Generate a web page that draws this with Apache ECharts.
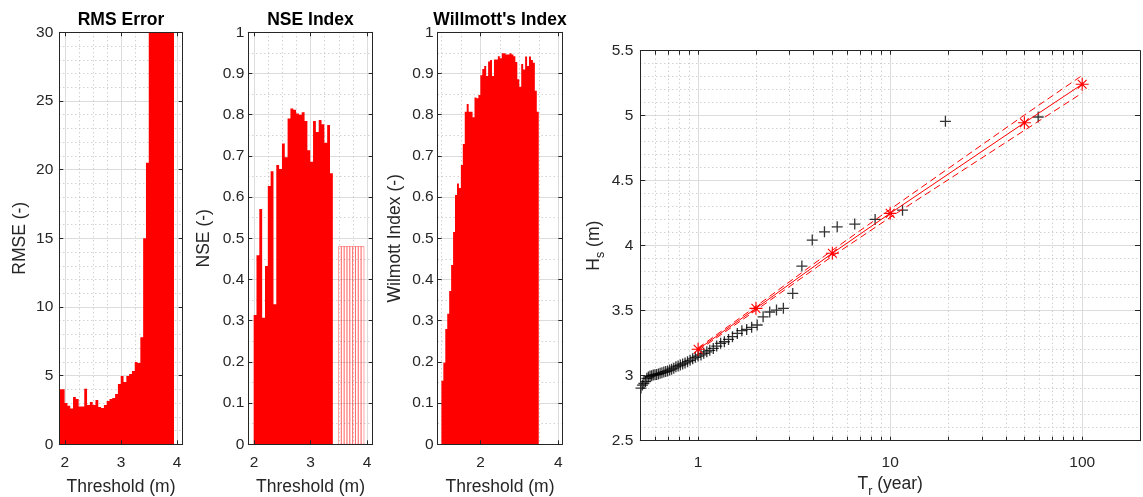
<!DOCTYPE html>
<html>
<head>
<meta charset="utf-8">
<title>Threshold skill scores and return levels</title>
<script src="https://cdn.jsdelivr.net/npm/echarts@6/dist/echarts.min.js"></script>
<style>
  html, body { margin: 0; padding: 0; background: #fff; }
  #chart { width: 1143px; height: 497px; }
</style>
</head>
<body>
<div id="chart"></div>
<script>
// ---------- data ----------
// RMS error per threshold (bin centres, m)
const rmseThreshold = [1.92, 1.97, 2.02, 2.07, 2.12, 2.17, 2.22, 2.27, 2.32, 2.37,
  2.42, 2.47, 2.52, 2.57, 2.62, 2.67, 2.72, 2.77, 2.82, 2.87,
  2.92, 2.97, 3.02, 3.07, 3.12, 3.17, 3.22, 3.27, 3.32, 3.37,
  3.42, 3.47, 3.52, 3.57, 3.62, 3.67, 3.72, 3.77, 3.82, 3.87, 3.92];
const rmse = [4.0, 4.0, 3.0, 2.8, 2.6, 3.45, 3.3, 2.75, 2.75, 4.05,
  2.86, 3.08, 2.86, 3.23, 2.72, 2.64, 2.86, 3.15, 3.3, 3.37,
  3.66, 4.39, 4.97, 4.54, 4.97, 5.12, 5.34, 6.0, 5.92, 7.8,
  15.0, 20.5, 36, 48, 62, 80, 95, 110, 130, 150, 175];

// Nash-Sutcliffe efficiency per threshold
const nseThreshold = [2.02, 2.07, 2.12, 2.17, 2.22, 2.27, 2.32, 2.37, 2.42, 2.47,
  2.52, 2.57, 2.62, 2.67, 2.72, 2.77, 2.82, 2.87, 2.92, 2.97,
  3.02, 3.07, 3.12, 3.17, 3.22, 3.27, 3.32, 3.37];
const nse = [0.314, 0.459, 0.571, 0.307, 0.433, 0.627, 0.663, 0.34, 0.678, 0.668,
  0.73, 0.697, 0.791, 0.815, 0.812, 0.803, 0.80, 0.806, 0.785, 0.714,
  0.686, 0.785, 0.758, 0.787, 0.777, 0.732, 0.775, 0.658];
// thresholds drawn as outline-only bars
const nseOutlineThreshold = [3.52, 3.57, 3.62, 3.67, 3.72, 3.77, 3.82, 3.87, 3.92];
const nseOutline = [0.48, 0.48, 0.48, 0.48, 0.48, 0.48, 0.48, 0.48, 0.48];

// Willmott index of agreement per threshold
const willThreshold = [1.02, 1.07, 1.12, 1.17, 1.22, 1.27, 1.32, 1.37, 1.42, 1.47,
  1.52, 1.57, 1.62, 1.67, 1.72, 1.77, 1.82, 1.87, 1.92, 1.97,
  2.02, 2.07, 2.12, 2.17, 2.22, 2.27, 2.32, 2.37, 2.42, 2.47,
  2.52, 2.57, 2.62, 2.67, 2.72, 2.77, 2.82, 2.87, 2.92, 2.97,
  3.02, 3.07, 3.12, 3.17, 3.22, 3.27, 3.32, 3.37, 3.42, 3.47];
const willmott = [0.154, 0.198, 0.28, 0.317, 0.372, 0.435, 0.515, 0.605, 0.633, 0.622,
  0.678, 0.729, 0.807, 0.826, 0.807, 0.807, 0.794, 0.842, 0.84, 0.848,
  0.896, 0.911, 0.918, 0.894, 0.929, 0.933, 0.894, 0.934, 0.934, 0.942,
  0.937, 0.949, 0.949, 0.946, 0.946, 0.949, 0.946, 0.942, 0.928, 0.886,
  0.868, 0.923, 0.91, 0.941, 0.918, 0.941, 0.933, 0.926, 0.858, 0.807];

// Observed peaks: return period (year) and significant wave height (m)
const obsTr = [59, 19.4, 11.6, 8.35, 6.54, 5.30, 4.55, 3.93, 3.47, 3.11,
  2.78, 2.56, 2.36, 2.18, 2.03, 1.90, 1.79, 1.69, 1.60, 1.51,
  1.44, 1.37, 1.31, 1.25, 1.20, 1.15, 1.11, 1.07, 1.035, 1.0,
  0.967, 0.937, 0.908, 0.881, 0.855, 0.831, 0.808, 0.787, 0.766, 0.747,
  0.728, 0.711, 0.694, 0.678, 0.663, 0.648, 0.634, 0.621, 0.608, 0.596,
  0.584, 0.573, 0.562, 0.551, 0.541, 0.532, 0.522, 0.513, 0.504];
const obsHs = [4.99, 4.957, 4.273, 4.202, 4.166, 4.145, 4.107, 4.043, 3.843, 3.633,
  3.518, 3.505, 3.49, 3.453, 3.39, 3.372, 3.356, 3.346, 3.325, 3.30,
  3.279, 3.261, 3.249, 3.228, 3.21, 3.195, 3.184, 3.172, 3.16, 3.151,
  3.141, 3.13, 3.118, 3.108, 3.098, 3.09, 3.082, 3.075, 3.068, 3.058,
  3.05, 3.043, 3.037, 3.032, 3.028, 3.022, 3.018, 3.013, 3.01, 3.007,
  3.005, 3.0, 2.997, 2.99, 2.98, 2.955, 2.94, 2.928, 2.905];

// Fitted return levels with confidence bounds
const fitTr = [1, 2, 5, 10, 50, 100];
const fitHs = [3.203, 3.518, 3.942, 4.249, 4.946, 5.242];
const fitUpper = [3.213, 3.533, 3.965, 4.28, 5.005, 5.31];
const fitLower = [3.193, 3.503, 3.919, 4.218, 4.887, 5.175];

// Tick positions
const thrMajorTicks = [2, 3, 4];
const thrMinorTicks = [2.25, 2.5, 2.75, 3.25, 3.5, 3.75];
const willMajorTicks = [2, 4];
const willMinorTicks = [1, 1.5, 2.5, 3, 3.5];
const trMajorTicks = [1, 10, 100];
const trMinorTicks = [0.6, 0.7, 0.8, 0.9, 2, 3, 4, 5, 6, 7, 8, 9,
  20, 30, 40, 50, 60, 70, 80, 90];
const trAllTicks = [0.6, 0.7, 0.8, 0.9, 1, 2, 3, 4, 5, 6, 7, 8, 9, 10,
  20, 30, 40, 50, 60, 70, 80, 90, 100];

// ---------- styling ----------
const FONT = '"Liberation Sans", Arial, Helvetica, sans-serif';
const INK = '#262626';
const GRID_MAJOR = '#dcdcdc';
const GRID_MINOR = '#bdbdbd';
const RED = '#ff0000';
const TICK_SIZE = 15.5;
const LABEL_SIZE = 17.5;
const BIN_HALF = 0.025;   // half of the threshold bin width (m)

const grids = [
  { left: 59.3,  top: 32.3, width: 123.4, height: 412 },
  { left: 248.3, top: 32.3, width: 124.4, height: 412 },
  { left: 437.7, top: 32.3, width: 124.6, height: 412 },
  { left: 640.3, top: 50.7, width: 499.7, height: 390 }
].map(g => Object.assign({ containLabel: false, outerBoundsMode: 'none' }, g));

const xAxes = [];
const yAxes = [];
const addX = o => (xAxes.push(o), xAxes.length - 1);
const addY = o => (yAxes.push(o), yAxes.length - 1);

const off = { show: false };
const nameStyle = {
  fontSize: LABEL_SIZE, color: INK, fontFamily: FONT,
  rich: { sub: { fontSize: 12.5, color: INK, fontFamily: FONT, verticalAlign: 'top', padding: [13, 0, 0, 0] } }
};

// label/grid axes plus a boxed frame with inward ticks
function buildX(g, c) {
  const base = { gridIndex: g, type: c.type || 'value', min: c.min, max: c.max };
  if (c.type === 'log') base.logBase = 10;
  const main = addX(Object.assign({}, base, {
    position: 'bottom',
    axisLine: { show: false, onZero: false },
    axisTick: { show: false, customValues: c.major },
    axisLabel: c.type === 'log'
      ? { show: true, margin: c.margin, color: INK, fontSize: TICK_SIZE, fontFamily: FONT, showMinLabel: false, showMaxLabel: false }
      : { show: true, customValues: c.major, margin: c.margin, color: INK, fontSize: TICK_SIZE, fontFamily: FONT },
    splitLine: { show: true, lineStyle: { color: GRID_MAJOR, width: 1 } },
    name: c.name, nameLocation: 'middle', nameGap: c.nameGap, nameTextStyle: nameStyle
  }));
  addX(Object.assign({}, base, {
    position: 'bottom',
    axisLine: { show: false, onZero: false },
    axisTick: { show: false, customValues: c.minor },
    axisLabel: off,
    splitLine: { show: true, lineStyle: { color: GRID_MINOR, width: 1, type: [1, 3] } }
  }));
  ['bottom', 'top'].forEach(pos => {
    addX(Object.assign({}, base, {
      position: pos, z: 5,
      axisLine: { show: true, onZero: false, lineStyle: { color: INK, width: 1 } },
      axisTick: { show: true, inside: true, length: c.tickLen, customValues: c.frameTicks || c.major, lineStyle: { color: INK, width: 1 } },
      axisLabel: off, splitLine: off
    }));
  });
  return main;
}

function buildY(g, c) {
  const base = { gridIndex: g, type: 'value', min: c.min, max: c.max, interval: c.interval };
  const main = addY(Object.assign({}, base, {
    position: 'left',
    axisLine: { show: false, onZero: false },
    axisTick: off,
    axisLabel: { show: true, margin: c.margin, color: INK, fontSize: TICK_SIZE, fontFamily: FONT },
    splitLine: { show: true, lineStyle: { color: GRID_MAJOR, width: 1 } },
    minorTick: { show: false, splitNumber: c.minorSplit },
    minorSplitLine: { show: true, lineStyle: { color: GRID_MINOR, width: 1, type: [1, 3] } },
    name: c.name, nameLocation: 'middle', nameGap: c.nameGap, nameTextStyle: nameStyle
  }));
  ['left', 'right'].forEach(pos => {
    addY(Object.assign({}, base, {
      position: pos, z: 5,
      axisLine: { show: true, onZero: false, lineStyle: { color: INK, width: 1 } },
      axisTick: { show: true, inside: true, length: c.tickLen, lineStyle: { color: INK, width: 1 } },
      axisLabel: off, splitLine: off
    }));
  });
  return main;
}

const ax = [
  { x: buildX(0, { min: 1.9, max: 4.1, major: thrMajorTicks, minor: thrMinorTicks, margin: 10, tickLen: 4, name: 'Threshold (m)', nameGap: 34 }),
    y: buildY(0, { min: 0, max: 30, interval: 5, minorSplit: 5, margin: 6, tickLen: 4, name: 'RMSE (-)', nameGap: 30 }) },
  { x: buildX(1, { min: 1.9, max: 4.1, major: thrMajorTicks, minor: thrMinorTicks, margin: 10, tickLen: 4, name: 'Threshold (m)', nameGap: 34 }),
    y: buildY(1, { min: 0, max: 1, interval: 0.1, minorSplit: 2, margin: 4, tickLen: 4, name: 'NSE (-)', nameGap: 35 }) },
  { x: buildX(2, { min: 0.9, max: 4.1, major: willMajorTicks, minor: willMinorTicks, margin: 10, tickLen: 4, name: 'Threshold (m)', nameGap: 34 }),
    y: buildY(2, { min: 0, max: 1, interval: 0.1, minorSplit: 2, margin: 4, tickLen: 4, name: 'Wilmott Index (-)', nameGap: 34 }) },
  { x: buildX(3, { type: 'log', min: 0.5, max: 200, major: trMajorTicks, minor: trMinorTicks, frameTicks: trAllTicks, margin: 14, tickLen: 4,
                   name: 'T{sub|r} (year)', nameGap: 26 }),
    y: buildY(3, { min: 2.5, max: 5.5, interval: 0.5, minorSplit: 5, margin: 7, tickLen: 5, name: 'H{sub|s} (m)', nameGap: 33 }) }
];

// Whole histogram as one stair-shaped polygon (no seams between bins);
// every vertex comes from the series values through api.coord.
function stairFill(params, api) {
  if (params.dataIndexInside !== 0) return null;
  const n = params.dataInsideLength;
  const pts = [api.coord([api.value(0, 0) - BIN_HALF, 0])];
  for (let i = 0; i < n; i++) {
    const t = api.value(0, i);
    const v = api.value(1, i);
    pts.push(api.coord([t - BIN_HALF, v]), api.coord([t + BIN_HALF, v]));
  }
  pts.push(api.coord([api.value(0, n - 1) + BIN_HALF, 0]));
  return { type: 'polygon', shape: { points: pts }, style: { fill: RED } };
}

// outline-only bins
function binOutline(params, api) {
  const t = api.value(0);
  const v = api.value(1);
  const a = api.coord([t - BIN_HALF, v]);
  const b = api.coord([t + BIN_HALF, 0]);
  return {
    type: 'rect',
    shape: { x: a[0], y: a[1], width: b[0] - a[0], height: b[1] - a[1] },
    style: { fill: 'none', stroke: 'rgba(255,0,0,0.45)', lineWidth: 0.8 }
  };
}
const pairs = (xs, ys) => xs.map((x, i) => [x, ys[i]]);

const PLUS = 'path://M0,5L10,5M5,0L5,10';
const STAR = 'path://M5,0L5,10M0,5L10,5M1.6,1.6L8.4,8.4M8.4,1.6L1.6,8.4';

const series = [
  { type: 'custom', name: 'RMSE', clip: true, xAxisIndex: ax[0].x, yAxisIndex: ax[0].y,
    renderItem: stairFill, data: pairs(rmseThreshold, rmse) },
  { type: 'custom', name: 'NSE', clip: true, xAxisIndex: ax[1].x, yAxisIndex: ax[1].y,
    renderItem: stairFill, data: pairs(nseThreshold, nse) },
  { type: 'custom', name: 'NSE outline', clip: true, xAxisIndex: ax[1].x, yAxisIndex: ax[1].y,
    renderItem: binOutline, data: pairs(nseOutlineThreshold, nseOutline) },
  { type: 'custom', name: 'Willmott', clip: true, xAxisIndex: ax[2].x, yAxisIndex: ax[2].y,
    renderItem: stairFill, data: pairs(willThreshold, willmott) },
  { type: 'scatter', name: 'Observed', xAxisIndex: ax[3].x, yAxisIndex: ax[3].y,
    symbol: PLUS, symbolSize: 11,
    itemStyle: { color: '#000', borderColor: '#000', borderWidth: 1.3 },
    data: pairs(obsTr, obsHs) },
  { type: 'line', name: 'Upper bound', xAxisIndex: ax[3].x, yAxisIndex: ax[3].y,
    symbol: 'none', lineStyle: { color: RED, width: 1, type: [7, 4] }, data: pairs(fitTr, fitUpper) },
  { type: 'line', name: 'Lower bound', xAxisIndex: ax[3].x, yAxisIndex: ax[3].y,
    symbol: 'none', lineStyle: { color: RED, width: 1, type: [7, 4] }, data: pairs(fitTr, fitLower) },
  { type: 'line', name: 'Fit', xAxisIndex: ax[3].x, yAxisIndex: ax[3].y,
    symbol: STAR, symbolSize: 13, showAllSymbol: true,
    itemStyle: { color: RED, borderColor: RED, borderWidth: 1.1 },
    lineStyle: { color: RED, width: 1 }, data: pairs(fitTr, fitHs) }
];

const titleStyle = { fontSize: 17.5, fontWeight: 'bold', color: '#000', fontFamily: FONT };
const titles = [['RMS Error', 0], ['NSE Index', 1], ["Willmott's Index", 2]].map(([text, i]) => ({
  text: text, left: grids[i].left + grids[i].width / 2, top: 11, padding: 0,
  textAlign: 'center', textStyle: titleStyle
}));

const chart = echarts.init(document.getElementById('chart'), null, { renderer: 'canvas' });
chart.setOption({
  animation: false,
  backgroundColor: '#ffffff',
  textStyle: { fontFamily: FONT },
  title: titles,
  grid: grids,
  xAxis: xAxes,
  yAxis: yAxes,
  series: series
});
</script>
</body>
</html>
